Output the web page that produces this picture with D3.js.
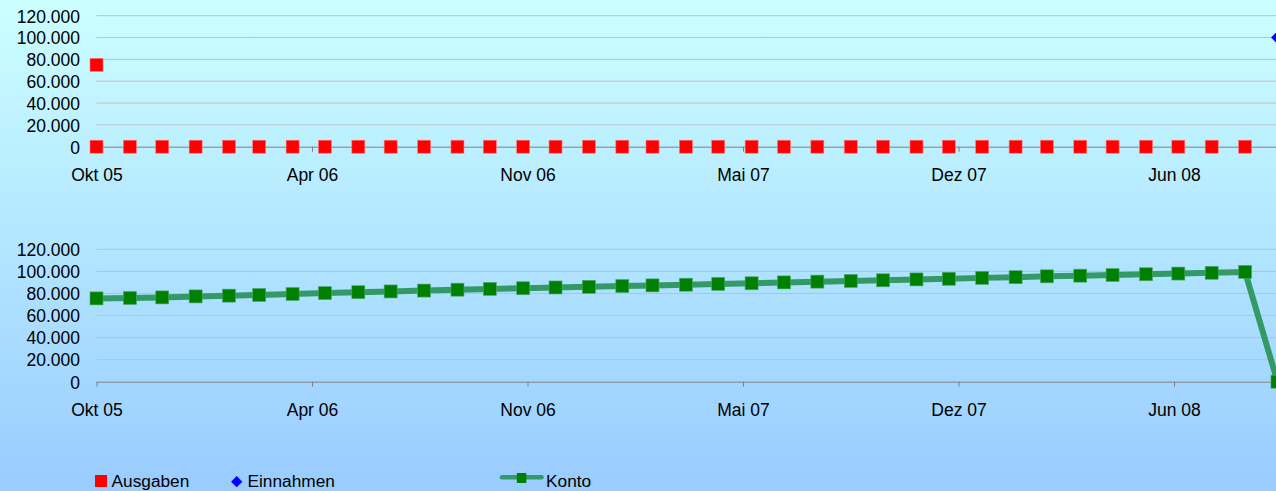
<!DOCTYPE html>
<html>
<head>
<meta charset="utf-8">
<script src="https://cdn.jsdelivr.net/npm/d3@7"></script>
<style>
  html, body { margin: 0; padding: 0; overflow: hidden; }
  svg { display: block; font-family: "Liberation Sans", Arial, sans-serif; }
</style>
</head>
<body>
<svg id="vis" width="1276" height="491"></svg>
<script>
// months shown on the date axis
var months = [
  '2005-10','2005-11','2005-12','2006-01','2006-02','2006-03','2006-04','2006-05',
  '2006-06','2006-07','2006-08','2006-09','2006-10','2006-11','2006-12','2007-01',
  '2007-02','2007-03','2007-04','2007-05','2007-06','2007-07','2007-08','2007-09',
  '2007-10','2007-11','2007-12','2008-01','2008-02','2008-03','2008-04','2008-05',
  '2008-06','2008-07','2008-08','2008-09','2008-10'
];

var ausgabenStart = { month: '2005-10', value: 75000 };
var ausgaben = [
  0, 0, 0, 0, 0, 0, 0, 0, 0, 0, 0, 0, 0, 0, 0, 0, 0, 0,
  0, 0, 0, 0, 0, 0, 0, 0, 0, 0, 0, 0, 0, 0, 0, 0, 0, 0
];
var einnahmen = [{ month: '2008-10', value: 100000 }];

var konto = [
  75500, 75900, 76400, 77300, 78000, 78600, 79500, 80300, 81100, 81800,
  82600, 83400, 84100, 84700, 85400, 86000, 86700, 87300, 87900, 88600,
  89200, 90000, 90700, 91300, 91900, 92700, 93300, 94100, 94700, 95500,
  96100, 96700, 97400, 98000, 98700, 99500, 0
];

var yTicks = [0, 20000, 40000, 60000, 80000, 100000, 120000];
var xTickLabels = ['Okt 05', 'Apr 06', 'Nov 06', 'Mai 07', 'Dez 07', 'Jun 08'];
var xTickStepDays = 200;

var prefs = {
  width: 1276,
  height: 491,
  plotLeft: 96.5,
  fontSize: 17.5,
  legendFontSize: 17.3,
  gridColor: '#c0c0c0',
  axisColor: '#808080',
  ausgabenColor: '#ff0000',
  einnahmenColor: '#0000ff',
  kontoLine: '#339966',
  kontoMarker: '#008000'
};

var svg = d3.select('#vis');
var parseMonth = d3.timeParse('%Y-%m');
var de = d3.formatLocale({ decimal: ',', thousands: '.', grouping: [3], currency: ['', ' €'] });
var fmt = de.format(',.0f');

/* background gradient */
var grad = svg.append('defs').append('linearGradient')
  .attr('id', 'bg').attr('x1', 0).attr('y1', 0).attr('x2', 0).attr('y2', 1);
grad.append('stop').attr('offset', '0%').attr('stop-color', '#ccffff');
grad.append('stop').attr('offset', '100%').attr('stop-color', '#99ccff');
svg.append('rect').attr('width', prefs.width).attr('height', prefs.height).attr('fill', 'url(#bg)');

var start = parseMonth(months[0]);
var tickDates = xTickLabels.map(function(_, i) {
  return d3.timeDay.offset(start, i * xTickStepDays);
});

var x = d3.scaleTime()
  .domain([start, tickDates[tickDates.length - 1]])
  .range([prefs.plotLeft, 1174]);

/* rotated square, as the spreadsheet draws its diamond marker */
function diamondPath(side) {
  var h = side * Math.SQRT2 / 2;
  return 'M0,' + (-h) + 'L' + h + ',0L0,' + h + 'L' + (-h) + ',0Z';
}

function buildPanel(top, bottom) {
  var g = svg.append('g');
  var y = d3.scaleLinear().domain([0, 120000]).range([bottom, top]);

  g.selectAll('.grid')
    .data(yTicks.slice(1))
    .enter().append('line')
      .attr('x1', prefs.plotLeft).attr('x2', prefs.width)
      .attr('y1', function(d) { return y(d); })
      .attr('y2', function(d) { return y(d); })
      .attr('stroke', prefs.gridColor)
      .attr('stroke-width', 1);

  var yAxis = d3.axisLeft(y).tickValues(yTicks).tickFormat(fmt).tickSize(0).tickPadding(0);
  var ya = g.append('g').attr('transform', 'translate(80,0)').call(yAxis);
  ya.select('.domain').remove();
  ya.selectAll('text').attr('font-size', prefs.fontSize).attr('fill', '#000')
    .attr('font-family', null).attr('dy', '0.36em');

  var xAxis = d3.axisBottom(x).tickValues(tickDates)
    .tickFormat(function(d, i) { return xTickLabels[i]; })
    .tickSize(5).tickSizeOuter(0).tickPadding(17);
  var xa = g.append('g').attr('transform', 'translate(0,' + bottom + ')').call(xAxis);
  xa.select('.domain').attr('d', 'M' + prefs.plotLeft + ',0.5H' + prefs.width)
    .attr('stroke', prefs.axisColor);
  xa.selectAll('.tick line').attr('stroke', prefs.axisColor);
  xa.selectAll('text').attr('font-size', prefs.fontSize).attr('fill', '#000')
    .attr('font-family', null);

  return { g: g, y: y };
}

/* top panel: Ausgaben / Einnahmen */
var p1 = buildPanel(15.7, 146.7);
var ausgabenPts = [ausgabenStart].concat(ausgaben.map(function(v, i) {
  return { month: months[i], value: v };
}));
p1.g.selectAll('.ausgaben')
  .data(ausgabenPts)
  .enter().append('rect')
    .attr('x', function(d) { return x(parseMonth(d.month)) - 6.5; })
    .attr('y', function(d) { return p1.y(d.value) - 6.5; })
    .attr('width', 13).attr('height', 13)
    .attr('fill', prefs.ausgabenColor)
    .attr('stroke', '#ff7a7a').attr('stroke-width', 0.6);

p1.g.selectAll('.einnahmen')
  .data(einnahmen)
  .enter().append('path')
    .attr('d', diamondPath(9))
    .attr('transform', function(d) {
      return 'translate(' + x(parseMonth(d.month)) + ',' + p1.y(d.value) + ')';
    })
    .attr('fill', prefs.einnahmenColor);

/* bottom panel: Konto */
var p2 = buildPanel(249.3, 381.7);
var line = d3.line()
  .x(function(d, i) { return x(parseMonth(months[i])); })
  .y(function(d) { return p2.y(d); });
p2.g.append('path')
  .datum(konto)
  .attr('d', line)
  .attr('fill', 'none')
  .attr('stroke', prefs.kontoLine)
  .attr('stroke-width', 6)
  .attr('stroke-linejoin', 'round');
p2.g.selectAll('.konto')
  .data(konto)
  .enter().append('rect')
    .attr('x', function(d, i) { return x(parseMonth(months[i])) - 6.5; })
    .attr('y', function(d) { return p2.y(d) - 6.5; })
    .attr('width', 13).attr('height', 13)
    .attr('fill', prefs.kontoMarker)
    .attr('stroke', '#4fa86f').attr('stroke-width', 0.6);

/* legend */
var lg = svg.append('g').attr('font-size', prefs.legendFontSize);
lg.append('rect').attr('x', 95).attr('y', 475).attr('width', 12).attr('height', 12)
  .attr('fill', prefs.ausgabenColor);
lg.append('text').attr('x', 111.5).attr('y', 487).text('Ausgaben');
lg.append('path').attr('d', diamondPath(8))
  .attr('transform', 'translate(236.7,481.7)').attr('fill', prefs.einnahmenColor);
lg.append('text').attr('x', 247.5).attr('y', 487).text('Einnahmen');
lg.append('line').attr('x1', 502).attr('x2', 541.5).attr('y1', 477.3).attr('y2', 477.3)
  .attr('stroke', prefs.kontoLine).attr('stroke-width', 4.5).attr('stroke-linecap', 'round');
lg.append('rect').attr('x', 516.8).attr('y', 473).attr('width', 9.5).attr('height', 10)
  .attr('fill', prefs.kontoMarker);
lg.append('text').attr('x', 546).attr('y', 487).text('Konto');
</script>
</body>
</html>
